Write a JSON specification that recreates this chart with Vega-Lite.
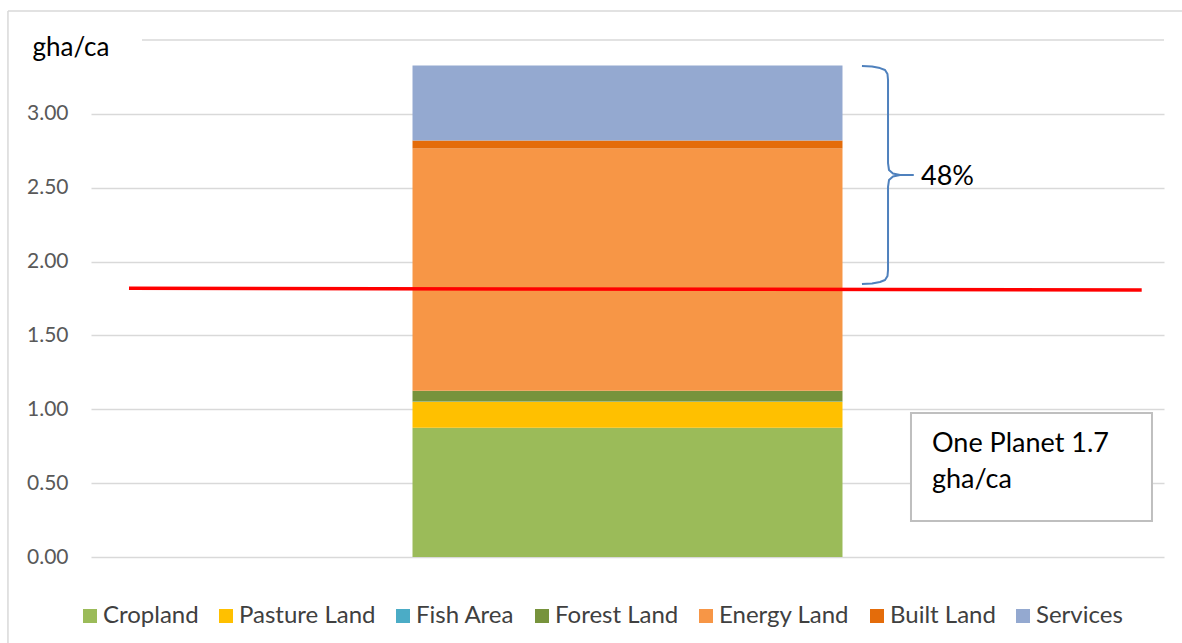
{
  "$schema": "https://vega.github.io/schema/vega-lite/v6.json",
  "width": 1073,
  "height": 517,
  "autosize": {"type": "none"},
  "padding": {"left": 91, "top": 40, "right": 18, "bottom": 86},
  "config": {
    "view": {"stroke": null},
    "font": "Lato",
    "text": {"font": "Lato"}
  },
  "layer": [
    {
      "data": {
        "values": [
          {"cat": "Total", "type": "Cropland", "value": 0.875, "o": 1},
          {"cat": "Total", "type": "Pasture Land", "value": 0.176, "o": 2},
          {"cat": "Total", "type": "Fish Area", "value": 0.002, "o": 3},
          {"cat": "Total", "type": "Forest Land", "value": 0.072, "o": 4},
          {"cat": "Total", "type": "Energy Land", "value": 1.64, "o": 5},
          {"cat": "Total", "type": "Built Land", "value": 0.054, "o": 6},
          {"cat": "Total", "type": "Services", "value": 0.508, "o": 7}
        ]
      },
      "mark": {"type": "bar"},
      "encoding": {
        "x": {"field": "cat", "type": "nominal", "axis": null, "scale": {"paddingInner": 0, "paddingOuter": 0.7477}},
        "y": {
          "field": "value", "type": "quantitative", "stack": "zero",
          "scale": {"domain": [0, 3.5], "nice": false},
          "axis": {
            "values": [0, 0.5, 1, 1.5, 2, 2.5, 3],
            "format": ".2f",
            "domain": false, "ticks": false,
            "labelPadding": 23, "labelFontSize": 21, "labelColor": "#595959", "labelFont": "Lato",
            "gridColor": "#d9d9d9", "gridWidth": 1.5,
            "title": "gha/ca", "titleAngle": 0, "titleAlign": "left", "titleBaseline": "alphabetic",
            "titleX": -59, "titleY": 15, "titleFontSize": 26, "titleFontWeight": "normal", "titleColor": "#000000", "titleFont": "Lato"
          }
        },
        "color": {
          "field": "type", "type": "nominal",
          "sort": ["Cropland", "Pasture Land", "Fish Area", "Forest Land", "Energy Land", "Built Land", "Services"],
          "scale": {
            "domain": ["Cropland", "Pasture Land", "Fish Area", "Forest Land", "Energy Land", "Built Land", "Services"],
            "range": ["#9BBB59", "#FFC000", "#4BACC6", "#77933C", "#F79646", "#E46C0A", "#94A9D0"]
          },
          "legend": {
            "title": null, "orient": "none", "direction": "horizontal",
            "legendX": -13, "legendY": 564, "padding": 0,
            "symbolType": "square", "symbolSize": 196, "symbolStrokeWidth": 0,
            "labelFontSize": 24, "labelColor": "#404040", "labelFont": "Lato",
            "labelOffset": 1, "columnPadding": 15
          }
        },
        "order": {"field": "o", "type": "quantitative"}
      }
    },
    {
      "layer": [
        {
          "data": {"values": [{}]},
          "mark": {"type": "rule", "color": "#d9d9d9", "strokeWidth": 1.5},
          "encoding": {
            "x": {"datum": 0.0475, "type": "quantitative", "scale": {"domain": [0, 1], "nice": false, "zero": false}, "axis": null},
            "x2": {"datum": 1.0},
            "y": {"datum": 3.5, "type": "quantitative", "scale": {"domain": [0, 3.5], "nice": false}}
          }
        },
        {
          "data": {"values": [{}]},
          "mark": {"type": "rule", "color": "#d9d9d9", "strokeWidth": 1.5},
          "encoding": {
            "x": {"datum": -0.0774, "type": "quantitative", "scale": {"domain": [0, 1], "nice": false, "zero": false}, "axis": null},
            "x2": {"datum": 1.02},
            "y": {"datum": 3.696, "type": "quantitative", "scale": {"domain": [0, 3.5], "nice": false}}
          }
        },
        {
          "data": {"values": [{}]},
          "mark": {"type": "rule", "color": "#d9d9d9", "strokeWidth": 1.5},
          "encoding": {
            "x": {"datum": -0.0774, "type": "quantitative", "scale": {"domain": [0, 1], "nice": false, "zero": false}, "axis": null},
            "y": {"datum": 3.696, "type": "quantitative", "scale": {"domain": [0, 3.5], "nice": false}},
            "y2": {"datum": -0.6}
          }
        },
        {
          "data": {"values": [{}]},
          "mark": {"type": "rule", "color": "#FF0000", "strokeWidth": 3.5},
          "encoding": {
            "x": {"datum": 0.0354, "type": "quantitative", "scale": {"domain": [0, 1], "nice": false, "zero": false}, "axis": null},
            "x2": {"datum": 0.9792},
            "y": {"datum": 1.819, "type": "quantitative", "scale": {"domain": [0, 3.5], "nice": false}},
            "y2": {"datum": 1.808}
          }
        },
        {
          "data": {
            "values": [
              {"i": 1, "bx": 0.7185, "by": 3.324},
              {"i": 2, "bx": 0.7279, "by": 3.321},
              {"i": 3, "bx": 0.7353, "by": 3.31},
              {"i": 4, "bx": 0.74, "by": 3.297},
              {"i": 5, "bx": 0.7423, "by": 3.27},
              {"i": 6, "bx": 0.7428, "by": 3.229},
              {"i": 7, "bx": 0.7428, "by": 2.667},
              {"i": 8, "bx": 0.7437, "by": 2.62},
              {"i": 9, "bx": 0.7474, "by": 2.596},
              {"i": 10, "bx": 0.754, "by": 2.586},
              {"i": 11, "bx": 0.7661, "by": 2.586},
              {"i": 12, "bx": 0.754, "by": 2.586},
              {"i": 13, "bx": 0.7474, "by": 2.576},
              {"i": 14, "bx": 0.7437, "by": 2.552},
              {"i": 15, "bx": 0.7428, "by": 2.505},
              {"i": 16, "bx": 0.7428, "by": 1.943},
              {"i": 17, "bx": 0.7423, "by": 1.902},
              {"i": 18, "bx": 0.74, "by": 1.875},
              {"i": 19, "bx": 0.7353, "by": 1.862},
              {"i": 20, "bx": 0.7279, "by": 1.852},
              {"i": 21, "bx": 0.7185, "by": 1.848}
            ]
          },
          "mark": {"type": "line", "color": "#4F81BD", "strokeWidth": 2, "strokeJoin": "round"},
          "encoding": {
            "x": {"field": "bx", "type": "quantitative", "scale": {"domain": [0, 1], "nice": false, "zero": false}, "axis": null},
            "y": {"field": "by", "type": "quantitative", "scale": {"domain": [0, 3.5], "nice": false}},
            "order": {"field": "i", "type": "quantitative"}
          }
        },
        {
          "data": {"values": [{}]},
          "mark": {"type": "text", "text": "48%", "align": "left", "baseline": "alphabetic", "fontSize": 27, "color": "#000000", "font": "Lato"},
          "encoding": {
            "x": {"datum": 0.7735, "type": "quantitative", "scale": {"domain": [0, 1], "nice": false, "zero": false}, "axis": null},
            "y": {"datum": 2.518, "type": "quantitative", "scale": {"domain": [0, 3.5], "nice": false}}
          }
        },
        {
          "data": {"values": [{}]},
          "mark": {"type": "rect", "fill": "#ffffff", "stroke": "#bfbfbf", "strokeWidth": 2},
          "encoding": {
            "x": {"datum": 0.7642, "type": "quantitative", "scale": {"domain": [0, 1], "nice": false, "zero": false}, "axis": null},
            "x2": {"datum": 0.9888},
            "y": {"datum": 0.975, "type": "quantitative", "scale": {"domain": [0, 3.5], "nice": false}},
            "y2": {"datum": 0.2437}
          }
        },
        {
          "data": {"values": [{}]},
          "mark": {"type": "text", "text": ["One Planet 1.7", "gha/ca"], "lineHeight": 36, "align": "left", "baseline": "alphabetic", "fontSize": 27, "color": "#000000", "font": "Lato"},
          "encoding": {
            "x": {"datum": 0.7838, "type": "quantitative", "scale": {"domain": [0, 1], "nice": false, "zero": false}, "axis": null},
            "y": {"datum": 0.711, "type": "quantitative", "scale": {"domain": [0, 3.5], "nice": false}}
          }
        }
      ]
    }
  ],
  "resolve": {"scale": {"x": "independent"}, "axis": {"x": "independent"}}
}
